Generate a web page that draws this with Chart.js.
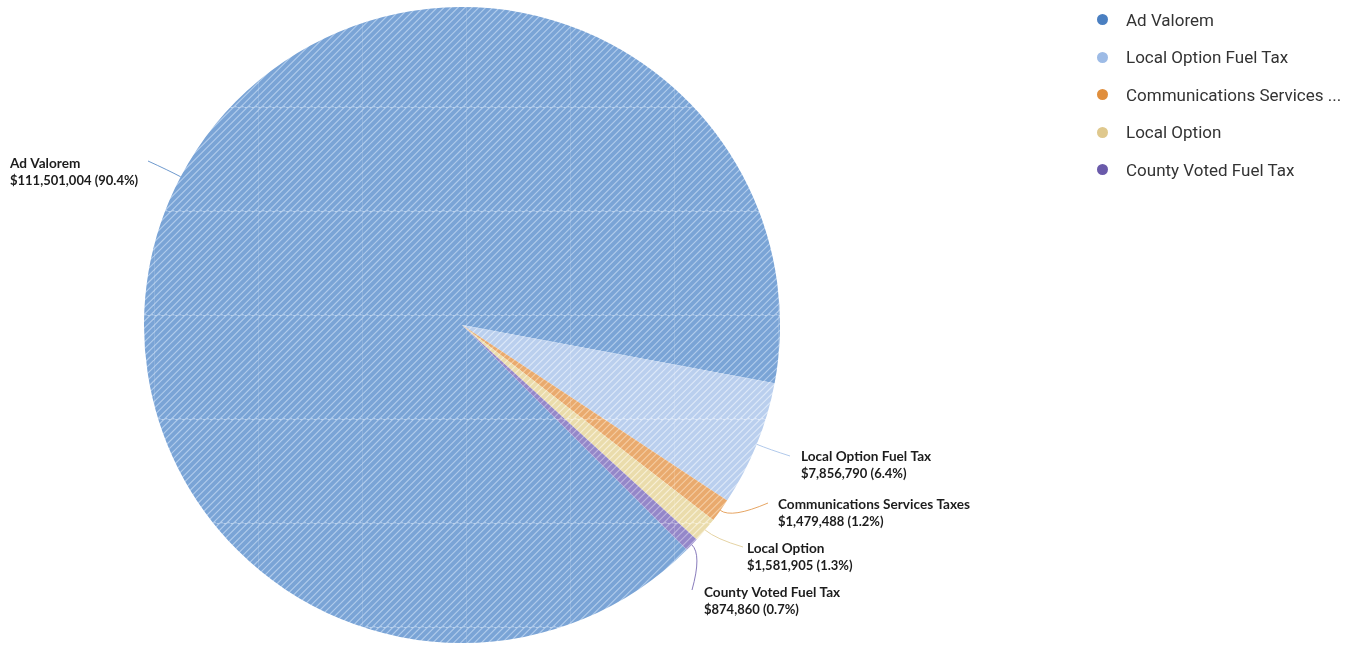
<!DOCTYPE html>
<html>
<head>
<meta charset="utf-8">
<script src="https://cdn.jsdelivr.net/npm/chart.js@4.4.1/dist/chart.umd.min.js"></script>
<style>
  body { margin: 0; background: #fff; }
  #wrap { position: relative; width: 1361px; height: 645px; }
  #legend { position: absolute; left: 1097px; top: 8px; font-family: Roboto, "Open Sans", sans-serif; font-size: 17px; color: #333; }
  #legend .item { height: 37.5px; display: flex; align-items: center; }
  #legend .item:first-child { margin-top: -7px; }
  #legend .dot { width: 11px; height: 11px; border-radius: 50%; margin-right: 18px; flex: none; }
</style>
</head>
<body>
<div id="wrap">
  <canvas id="taxChart" width="1361" height="645"></canvas>
  <div id="legend"></div>
</div>
<script>
const categories = ["Ad Valorem", "Local Option Fuel Tax", "Communications Services Taxes", "Local Option", "County Voted Fuel Tax"];
const amounts = [111501004, 7856790, 1479488, 1581905, 874860];

// legend dot colour, then the two stripe shades used inside each slice
const baseColors = ["#4a7fc1", "#9dbbe6", "#e08e3c", "#dfc88d", "#6a5aaa"];
const stripeDark = ["#7aa4d6", "#bacfee", "#e9aa6e", "#eadcac", "#9487c9"];
const stripeLight = ["#b1ccec", "#dde8f8", "#f5cda3", "#f7efd6", "#beb5df"];

// where each label's leader line ends and where its text sits
const labelPos = [
  { ex: 148, ey: 161, tx: 10, ty: 164 },
  { ex: 790, ey: 456, tx: 801, ty: 457 },
  { ex: 768, ey: 503, tx: 778, ty: 505 },
  { ex: 743, ey: 547, tx: 747, ty: 549 },
  { ex: 692, ey: 590, tx: 704, ty: 593 }
];

const total = amounts.reduce((a, b) => a + b, 0);

function stripes(dark, light) {
  const size = 104, n = 15, step = size / n;
  const c = document.createElement("canvas");
  c.width = size; c.height = size;
  const g = c.getContext("2d");
  g.fillStyle = light;
  g.fillRect(0, 0, size, size);
  g.strokeStyle = dark;
  g.lineWidth = step * 0.55;
  for (let i = -1; i <= 2 * n + 1; i++) {
    const x = i * step;
    g.beginPath();
    g.moveTo(x, 0);
    g.lineTo(x - size, size);
    g.stroke();
  }
  // faint seams every tile
  g.strokeStyle = "rgba(255,255,255,0.14)";
  g.lineWidth = 2;
  g.beginPath();
  g.moveTo(0, 0); g.lineTo(size, 0);
  g.moveTo(0, 0); g.lineTo(0, size);
  g.stroke();
  const p = document.createElement("canvas").getContext("2d").createPattern(c, "repeat");
  p.setTransform(new DOMMatrix().translate(50, 3));
  return p;
}

const fills = categories.map((_, i) => stripes(stripeDark[i], stripeLight[i]));

const money = v => "$" + v.toLocaleString("en-US");

const sliceLabels = {
  id: "sliceLabels",
  afterDatasetsDraw(chart) {
    const ctx = chart.ctx;
    const arcs = chart.getDatasetMeta(0).data;
    ctx.save();
    arcs.forEach((arc, i) => {
      const { x, y, startAngle, endAngle, outerRadius } = arc.getProps(["x", "y", "startAngle", "endAngle", "outerRadius"], true);
      const mid = (startAngle + endAngle) / 2;
      const sx = x + Math.cos(mid) * outerRadius;
      const sy = y + Math.sin(mid) * outerRadius;
      const cx = x + Math.cos(mid) * (outerRadius + 14);
      const cy = y + Math.sin(mid) * (outerRadius + 14);
      const pos = labelPos[i];
      ctx.strokeStyle = baseColors[i];
      ctx.globalAlpha = 0.8;
      ctx.lineWidth = 1;
      ctx.beginPath();
      ctx.moveTo(sx, sy);
      ctx.quadraticCurveTo(cx, cy, pos.ex, pos.ey);
      ctx.stroke();
      ctx.globalAlpha = 1;

      const pct = (amounts[i] / total * 100).toFixed(1);
      ctx.fillStyle = "#1c1c1c";
      ctx.textAlign = "left";
      ctx.textBaseline = "middle";
      ctx.font = "bold 13.6px Lato, sans-serif";
      ctx.fillText(categories[i], pos.tx, pos.ty);
      ctx.font = "bold 13px Lato, sans-serif";
      ctx.fillText(money(amounts[i]) + " (" + pct + "%)", pos.tx, pos.ty + 17);
    });
    ctx.restore();
  }
};

new Chart(document.getElementById("taxChart"), {
  type: "pie",
  data: {
    labels: categories,
    datasets: [{
      data: amounts,
      backgroundColor: fills,
      borderWidth: 0,
      hoverOffset: 0
    }]
  },
  options: {
    responsive: false,
    animation: false,
    rotation: 135,
    layout: { padding: { top: 7, bottom: 2, left: 0, right: 437 } },
    plugins: {
      legend: { display: false },
      tooltip: { enabled: false }
    }
  },
  plugins: [sliceLabels]
});

// legend on the right, long names cut short
const shortName = s => s.length > 24 ? s.slice(0, 24).trim() + " ..." : s;
document.getElementById("legend").innerHTML = categories.map((c, i) =>
  `<div class="item"><span class="dot" style="background:${baseColors[i]}"></span>${shortName(c)}</div>`
).join("");
</script>
</body>
</html>
